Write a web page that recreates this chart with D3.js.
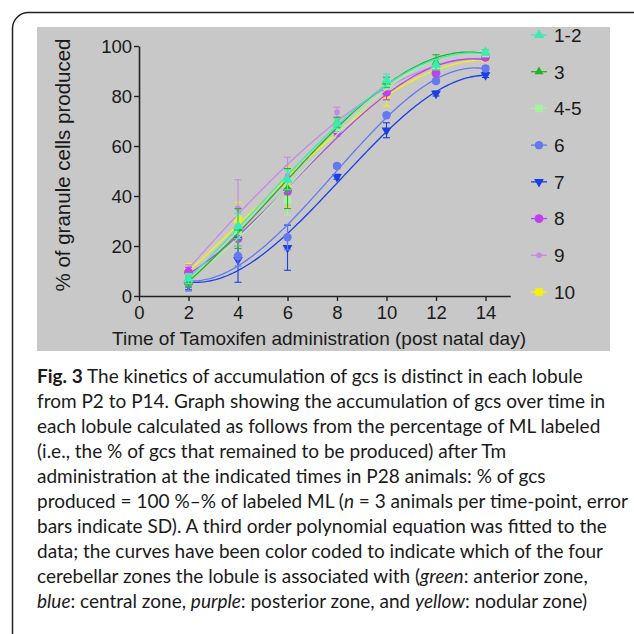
<!DOCTYPE html>
<html>
<head>
<meta charset="utf-8">
<script src="https://cdn.jsdelivr.net/npm/d3@7"></script>
<style>
  body { margin: 0; background: #fff; }
  svg { display: block; }
</style>
</head>
<body>
<svg id="fig" width="634" height="634"></svg>
<script>
// data: % granule cells produced, mean and SD per lobule
var days = [2, 4, 6, 8, 10, 12, 14];
var lobules = ["1-2", "3", "4-5", "6", "7", "8", "9", "10"];
var colors = ["#40e8b4", "#22b422", "#a6f2a2", "#6478f0", "#1c3ee4", "#c040f0", "#c68ae6", "#f4f400"];
var shapes = ["triangle", "triangle", "square", "circle", "triangleDown", "circle", "diamond", "square"];

var means = [
  [7.0, 28.0, 46.5, 69.0, 86.3, 92.5, 97.5],   // 1-2
  [5.5, 27.0, 43.0, 69.5, 85.5, 93.5, 97.5],   // 3
  [6.5, 26.0, 38.3, 67.5, 84.5, 92.0, 97.0],   // 4-5
  [5.0, 16.0, 23.5, 52.0, 72.3, 86.0, 91.0],   // 6
  [4.5, 14.5, 19.3, 47.7, 66.3, 81.0, 88.4],   // 7
  [9.5, 23.0, 42.0, 66.0, 81.5, 89.2, 95.5],   // 8
  [10.5, 35.0, 48.0, 73.5, 83.0, 91.0, 95.5],  // 9
  [9.5, 30.5, 43.5, 68.0, 80.5, 89.0, 95.0]    // 10
];
var sds = [
  [2, 5, 4, 2, 2.5, 2, 1],
  [2, 8, 8, 2, 2, 3, 1],
  [2, 6, 6, 2, 2, 1.5, 1],
  [3, 4, 5, 1, 1, 1, 1],
  [2, 9, 9, 1, 3, 1, 1],
  [2, 3, 4, 2, 3, 1.5, 1],
  [2, 11.5, 7.5, 2, 2, 1, 1],
  [3.5, 7, 8, 3, 4.5, 1.5, 1]
];
var xTicks = [0, 2, 4, 6, 8, 10, 12, 14];
var yTicks = [0, 20, 40, 60, 80, 100];

var caption = [
  [["Fig. 3", "b"], [" The kinetics of accumulation of gcs is distinct in each lobule", ""]],
  [["from P2 to P14. Graph showing the accumulation of gcs over time in", ""]],
  [["each lobule calculated as follows from the percentage of ML labeled", ""]],
  [["(i.e., the % of gcs that remained to be produced) after Tm", ""]],
  [["administration at the indicated times in P28 animals: % of gcs", ""]],
  [["produced = 100 %\u2013% of labeled ML (", ""], ["n", "i"], [" = 3 animals per time-point, error", ""]],
  [["bars indicate SD). A third order polynomial equation was fitted to the", ""]],
  [["data; the curves have been color coded to indicate which of the four", ""]],
  [["cerebellar zones the lobule is associated with (", ""], ["green", "i"], [": anterior zone,", ""]],
  [["blue", "i"], [": central zone, ", ""], ["purple", "i"], [": posterior zone, and ", ""], ["yellow", "i"], [": nodular zone)", ""]]
];

var svg = d3.select("#fig");

// outer frame (runs off the right and bottom)
svg.append("rect")
  .attr("x", 12.5).attr("y", 12.5)
  .attr("width", 660).attr("height", 660)
  .attr("rx", 16)
  .attr("fill", "none")
  .attr("stroke", "#222")
  .attr("stroke-width", 1.5);

svg.append("rect")
  .attr("x", 37).attr("y", 27)
  .attr("width", 573).attr("height", 324)
  .attr("fill", "#c8c8c8");

var x = d3.scaleLinear().domain([0, 15]).range([139, 510.25]);
var y = d3.scaleLinear().domain([0, 100]).range([296, 46]);

var xAxis = svg.append("g")
  .attr("transform", "translate(0,296)")
  .call(d3.axisBottom(x).tickValues(xTicks).tickSize(5).tickSizeOuter(0).tickPadding(5));
var yAxis = svg.append("g")
  .attr("transform", "translate(139,0)")
  .call(d3.axisLeft(y).tickValues(yTicks).tickSize(5).tickSizeOuter(0).tickPadding(2));

[xAxis, yAxis].forEach(function(ax) {
  ax.select(".domain").attr("stroke", "#222").attr("stroke-width", 1.6);
  ax.selectAll(".tick line").attr("stroke", "#222").attr("stroke-width", 1.4);
  ax.selectAll(".tick text")
    .attr("fill", "#1a1a1a")
    .style("font-family", "'Liberation Sans', Arial, sans-serif")
    .style("font-size", "18.5px");
});
yAxis.selectAll(".tick text").attr("dy", "0.36em");

svg.append("text")
  .attr("x", 319).attr("y", 345)
  .attr("text-anchor", "middle")
  .attr("fill", "#1a1a1a")
  .style("font-family", "'Liberation Sans', Arial, sans-serif")
  .style("font-size", "19px")
  .text("Time of Tamoxifen administration (post natal day)");

svg.append("text")
  .attr("transform", "translate(70,165) rotate(-90)")
  .attr("text-anchor", "middle")
  .attr("fill", "#1a1a1a")
  .style("font-family", "'Liberation Sans', Arial, sans-serif")
  .style("font-size", "20.5px")
  .text("% of granule cells produced");

// cubic least squares fit, as in the figure
function cubicFit(xs, ys) {
  var n = 4, A = [], b = [];
  for (var i = 0; i < n; i++) {
    A.push([0, 0, 0, 0]);
    b.push(0);
  }
  xs.forEach(function(xv, k) {
    for (var i = 0; i < n; i++) {
      for (var j = 0; j < n; j++) A[i][j] += Math.pow(xv, i + j);
      b[i] += ys[k] * Math.pow(xv, i);
    }
  });
  // gaussian elimination
  for (var c = 0; c < n; c++) {
    var p = c;
    for (var r = c + 1; r < n; r++) if (Math.abs(A[r][c]) > Math.abs(A[p][c])) p = r;
    var t = A[c]; A[c] = A[p]; A[p] = t;
    var tb = b[c]; b[c] = b[p]; b[p] = tb;
    for (var r2 = c + 1; r2 < n; r2++) {
      var f = A[r2][c] / A[c][c];
      for (var j2 = c; j2 < n; j2++) A[r2][j2] -= f * A[c][j2];
      b[r2] -= f * b[c];
    }
  }
  var coef = [0, 0, 0, 0];
  for (var r3 = n - 1; r3 >= 0; r3--) {
    var s = b[r3];
    for (var j3 = r3 + 1; j3 < n; j3++) s -= A[r3][j3] * coef[j3];
    coef[r3] = s / A[r3][r3];
  }
  return function(xv) { return coef[0] + coef[1] * xv + coef[2] * xv * xv + coef[3] * xv * xv * xv; };
}

var symbolType = {
  triangle: d3.symbolTriangle,
  triangleDown: d3.symbolTriangle,
  square: d3.symbolSquare,
  circle: d3.symbolCircle,
  diamond: d3.symbolCircle
};
var symbolSize = [46, 34, 60, 56, 42, 62, 26, 56];

function marker(sel, i) {
  sel.append("path")
    .attr("d", d3.symbol().type(symbolType[shapes[i]]).size(symbolSize[i]))
    .attr("fill", colors[i])
    .attr("transform", function(d) {
      return shapes[i] == "triangleDown" ? "rotate(180)" : null;
    });
}

var line = d3.line().x(d => x(d[0])).y(d => y(d[1]));
var plot = svg.append("g");

// draw last series first so 1-2 ends up on top
for (var i = lobules.length - 1; i >= 0; i--) {
  var fit = cubicFit(days, means[i]);
  var pts = d3.range(2, 14.001, 0.1).map(d => [d, fit(d)]);
  var g = plot.append("g");

  g.append("path")
    .datum(pts)
    .attr("d", line)
    .attr("fill", "none")
    .attr("stroke", colors[i])
    .attr("stroke-width", 1.3);

  var rows = days.map((d, k) => ({ day: d, m: means[i][k], sd: sds[i][k] }));
  var eb = g.selectAll("g.err").data(rows).join("g").attr("class", "err");
  eb.append("line")
    .attr("x1", d => x(d.day)).attr("x2", d => x(d.day))
    .attr("y1", d => y(d.m - d.sd)).attr("y2", d => y(d.m + d.sd));
  eb.append("line")
    .attr("x1", d => x(d.day) - 3.5).attr("x2", d => x(d.day) + 3.5)
    .attr("y1", d => y(d.m - d.sd)).attr("y2", d => y(d.m - d.sd));
  eb.append("line")
    .attr("x1", d => x(d.day) - 3.5).attr("x2", d => x(d.day) + 3.5)
    .attr("y1", d => y(d.m + d.sd)).attr("y2", d => y(d.m + d.sd));
  eb.selectAll("line").attr("stroke", colors[i]).attr("stroke-width", 1.1);

  var mk = g.selectAll("g.pt").data(rows).join("g")
    .attr("class", "pt")
    .attr("transform", d => "translate(" + x(d.day) + "," + y(d.m) + ")");
  marker(mk, i);
}

// legend
var legend = svg.append("g");
var ly = d3.scalePoint().domain(lobules).range([35, 292]);
lobules.forEach(function(name, i) {
  var item = legend.append("g").attr("transform", "translate(539," + ly(name) + ")");
  item.append("line")
    .attr("x1", -8).attr("x2", 8)
    .attr("stroke", colors[i]).attr("stroke-width", 1.3);
  marker(item, i);
  item.append("text")
    .attr("x", 15).attr("dy", "0.36em")
    .attr("fill", "#1a1a1a")
    .style("font-family", "'Liberation Sans', Arial, sans-serif")
    .style("font-size", "19px")
    .text(name);
});

// caption
var cap = svg.append("g")
  .style("font-family", "Lato, 'Open Sans', sans-serif")
  .style("font-size", "19px")
  .attr("fill", "#1a1a1a");
caption.forEach(function(parts, k) {
  var t = cap.append("text")
    .attr("x", 37)
    .attr("y", 383 + k * 25);
  parts.forEach(function(p) {
    t.append("tspan")
      .style("font-weight", p[1] == "b" ? "bold" : null)
      .style("font-style", p[1] == "i" ? "italic" : null)
      .text(p[0]);
  });
});
</script>
</body>
</html>
